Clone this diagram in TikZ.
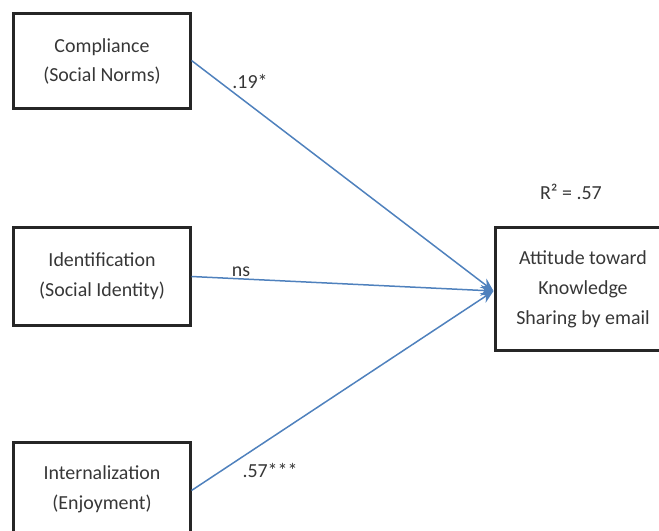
\documentclass[tikz,border=0pt]{standalone}
\usepackage{fontspec}
\setmainfont{Carlito}
\usetikzlibrary{arrows.meta}
\definecolor{mblue}{RGB}{79,129,189}
\definecolor{mgray}{RGB}{55,55,55}

\begin{document}
\begin{tikzpicture}[x=1bp,y=-1bp,
    construct/.style={draw=black!85, line width=3bp, align=center, text=mgray,
      minimum width=176bp, minimum height=95bp, inner sep=0pt,
      font=\fontsize{20}{30}\selectfont},
    effect/.style={draw=mblue, line width=1.5bp, -{Stealth[length=13bp,width=11bp]}},
    coef/.style={text=mgray, inner sep=0pt, font=\fontsize{20}{24}\selectfont}]
      \useasboundingbox (0,0) rectangle (659,531);
      \clip (0,0) rectangle (659,531);

      \node [construct] (comp) at (102,61.5) {Compliance\\(Social Norms)};
      \node [construct, minimum height=97bp] (ident) at (102,276.5) {Identification\\(Social Identity)};
      \node [construct] (intern) at (102,489.5) {Internalization\\(Enjoyment)};
      \node [construct, minimum height=122bp] (att) at (583,289) {Attitude toward\\Knowledge\\Sharing by email};

      \coordinate (tip) at ([yshift=-2bp]att.west);
      \draw [effect] ([yshift=1bp]comp.east) -- (tip);
      \draw [effect] (ident.east) -- (tip);
      \draw [effect] ([yshift=-1bp]intern.east) -- (tip);

      \node [coef] (c1) at (250,82) {.19*};
      \node [coef] (c2) at (241,272) {ns};
      \node [coef] (c3) at (270,471) {.57***};
      \node [coef] (rsq) at (571,192) {R² = .57};
    \end{tikzpicture}
\end{document}
